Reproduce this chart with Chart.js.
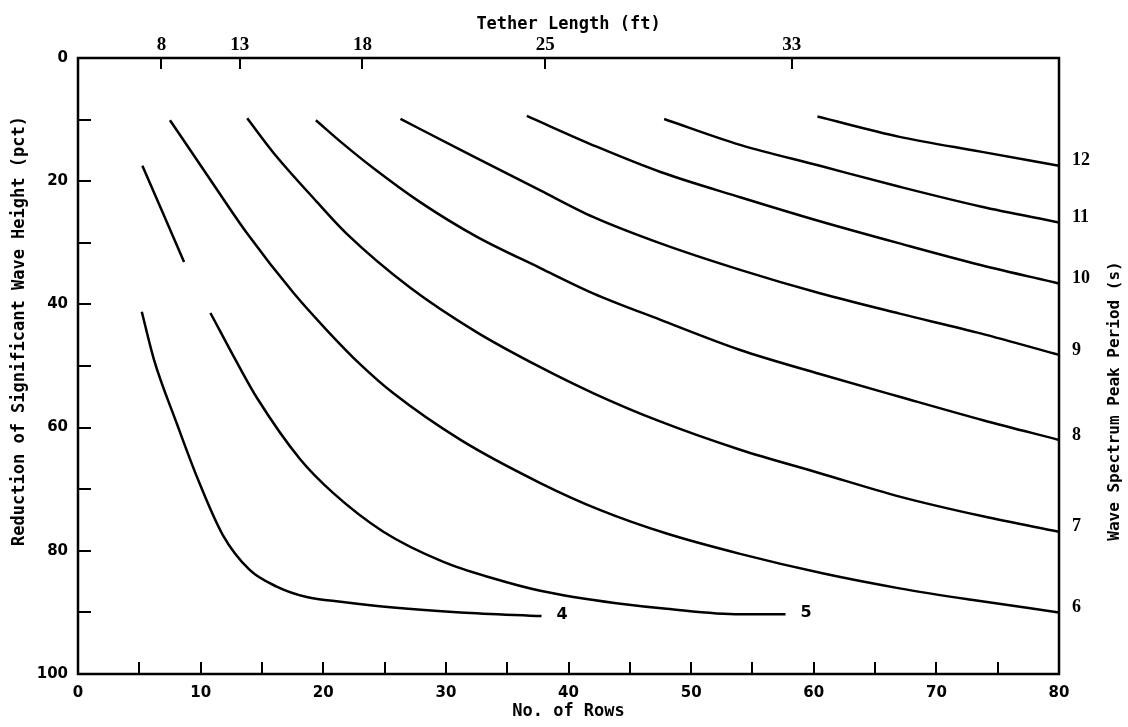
<!DOCTYPE html>
<html>
<head>
<meta charset="utf-8">
<script src="https://cdn.jsdelivr.net/npm/chart.js@4.4.1/dist/chart.umd.min.js"></script>
<style>
  html, body { margin: 0; padding: 0; background: #fff; }
</style>
</head>
<body>
<canvas id="waveChart" width="1128" height="727"></canvas>
<script>
// Rows (x) and reduction of significant wave height in pct (y), one pair per peak period curve
const rows4 = [5.2, 6.2, 8.05, 9.7, 11.8, 14.0, 16.2, 18.65, 21.6, 25.7, 31.2, 37.8];
const red4  = [41.2, 49.0, 59.3, 68.0, 77.4, 83.1, 85.8, 87.5, 88.3, 89.2, 90.0, 90.6];

// the 5 s curve has a break in the print between 8.6 and 10.8 rows
const rows5 = [5.25, 8.65, 9.7, 10.8, 13.2, 14.6, 18.1, 20.8, 24.9, 29.8, 33.9, 37.7, 40.4, 43.9, 48.0, 54.0, 57.7];
const red5  = [17.5, 33.1, null, 41.4, 50.3, 55.2, 65.1, 70.6, 76.9, 81.8, 84.5, 86.5, 87.5, 88.5, 89.4, 90.3, 90.3];

const rows6 = [7.5, 10.5, 13.8, 17.6, 20.3, 23.0, 25.7, 31.2, 37.7, 42.6, 48.0, 54.0, 60.8, 67.0, 73.0, 80];
const red6  = [10.1, 18.9, 28.5, 38.2, 44.2, 49.7, 54.4, 62.0, 69.0, 73.4, 77.2, 80.5, 83.7, 86.1, 88.0, 90.0];

const rows7 = [13.8, 15.9, 19.5, 21.9, 27.1, 32.5, 37.7, 42.0, 47.2, 54.0, 60.5, 67.0, 73.8, 80];
const red7  = [9.8, 15.3, 23.4, 28.5, 37.3, 44.5, 50.2, 54.4, 58.8, 63.6, 67.4, 71.2, 74.4, 76.9];

const rows8 = [19.4, 21.6, 24.1, 27.9, 32.5, 37.7, 42.0, 47.5, 54.0, 60.5, 67.0, 73.8, 80];
const red8  = [10.1, 13.9, 17.9, 23.4, 29.0, 34.1, 38.2, 42.5, 47.4, 51.3, 55.0, 58.8, 62.0];

const rows9 = [26.3, 31.2, 37.7, 42.0, 47.5, 54.0, 60.5, 67.0, 73.6, 80];
const red9  = [9.9, 14.9, 21.5, 25.8, 30.1, 34.4, 38.2, 41.5, 44.7, 48.2];

const rows10 = [36.6, 42.3, 47.5, 54.0, 60.5, 67.0, 73.6, 80];
const red10  = [9.4, 14.4, 18.5, 22.6, 26.5, 30.1, 33.6, 36.6];

const rows11 = [47.8, 54.0, 60.5, 67.0, 73.6, 80];
const red11  = [9.9, 14.1, 17.5, 20.9, 24.1, 26.7];

const rows12 = [60.3, 67.0, 73.6, 80];
const red12  = [9.5, 12.8, 15.2, 17.5];

const periods = ['4', '5', '6', '7', '8', '9', '10', '11', '12'];
const curveRows = [rows4, rows5, rows6, rows7, rows8, rows9, rows10, rows11, rows12];
const curveRed = [red4, red5, red6, red7, red8, red9, red10, red11, red12];

// top axis: tether length at the matching number of rows
const tetherRows = [6.8, 13.2, 23.2, 38.1, 58.2];
const tetherFt = ['8', '13', '18', '25', '33'];

const ink = '#000';
const monoBold = { family: 'DejaVu Sans Mono', size: 17, weight: 'bold' };
const numFont = { family: 'DejaVu Sans', size: 15, weight: 'bold' };

const datasets = periods.map((p, i) => ({
    label: p + ' s',
    data: curveRows[i].map((x, j) => ({ x, y: curveRed[i][j] })),
    borderColor: ink,
    borderWidth: 2.5,
    pointRadius: 0,
    fill: false,
    tension: 0.4,
    cubicInterpolationMode: 'monotone',
    spanGaps: false
}));

// frame, inward tick marks, curve labels and the two side titles
const frameAndMarks = {
    id: 'frameAndMarks',
    afterDraw(chart) {
        const { ctx, chartArea: a, scales } = chart;
        ctx.save();
        ctx.strokeStyle = ink;
        ctx.lineWidth = 2.5;
        ctx.strokeRect(a.left, a.top, a.width, a.height);

        ctx.lineWidth = 2;
        ctx.beginPath();
        for (let v = 5; v < 80; v += 5) {
            const px = Math.round(scales.x.getPixelForValue(v));
            ctx.moveTo(px, a.bottom);
            ctx.lineTo(px, a.bottom - 12);
        }
        for (let v = 10; v < 100; v += 10) {
            const py = Math.round(scales.y.getPixelForValue(v));
            ctx.moveTo(a.left, py);
            ctx.lineTo(a.left + 13, py);
        }
        tetherRows.forEach(v => {
            const px = Math.round(scales.x2.getPixelForValue(v));
            ctx.moveTo(px, a.top);
            ctx.lineTo(px, a.top + 11);
        });
        ctx.stroke();

        ctx.fillStyle = ink;
        ctx.textBaseline = 'middle';
        ctx.textAlign = 'left';
        chart.data.datasets.forEach((ds, i) => {
            const last = ds.data[ds.data.length - 1];
            const px = scales.x.getPixelForValue(last.x);
            const py = scales.y.getPixelForValue(last.y);
            if (last.x >= 80) {
                ctx.font = 'bold 18px "Liberation Serif"';
                ctx.fillText(periods[i], a.right + 13, py - 5);
            } else {
                ctx.font = 'bold 16px "DejaVu Sans"';
                ctx.fillText(periods[i], px + 15, py - 1);
            }
        });

        ctx.font = 'bold 17px "DejaVu Sans Mono"';
        ctx.textAlign = 'center';
        ctx.save();
        ctx.translate(20, 331);
        ctx.rotate(-Math.PI / 2);
        ctx.fillText('Reduction of Significant Wave Height (pct)', 0, 0);
        ctx.restore();

        ctx.font = 'bold 16px "DejaVu Sans Mono"';
        ctx.translate(a.right + 56, 401);
        ctx.rotate(-Math.PI / 2);
        ctx.fillText('Wave Spectrum Peak Period (s)', 0, 0);
        ctx.restore();
    }
};

new Chart(document.getElementById('waveChart'), {
    type: 'line',
    data: { datasets },
    options: {
        responsive: false,
        animation: false,
        layout: { padding: { right: 69 } },
        plugins: {
            legend: { display: false },
            tooltip: { enabled: false }
        },
        scales: {
            x: {
                type: 'linear',
                position: 'bottom',
                min: 0,
                max: 80,
                ticks: { stepSize: 10, padding: 10, color: ink, font: numFont, maxRotation: 0 },
                grid: { display: false, drawTicks: false },
                border: { display: false },
                title: { display: true, text: 'No. of Rows', color: ink, font: monoBold, padding: { top: 0, bottom: 5 } },
                afterFit(s) { s.height = 53; }
            },
            x2: {
                type: 'linear',
                position: 'top',
                min: 0,
                max: 80,
                afterBuildTicks(s) { s.ticks = tetherRows.map(v => ({ value: v })); },
                ticks: {
                    autoSkip: false,
                    padding: 2,
                    color: ink,
                    font: { family: 'Liberation Serif', size: 19, weight: 'bold' },
                    maxRotation: 0,
                    callback: (v, i) => tetherFt[i]
                },
                grid: { display: false, drawTicks: false },
                border: { display: false },
                title: { display: true, text: 'Tether Length (ft)', color: ink, font: monoBold, padding: { top: 14, bottom: 0 } },
                afterFit(s) { s.height = 58; }
            },
            y: {
                type: 'linear',
                position: 'left',
                reverse: true,
                min: 0,
                max: 100,
                ticks: { stepSize: 20, padding: 10, color: ink, font: numFont },
                grid: { display: false, drawTicks: false },
                border: { display: false },
                afterFit(s) { s.width = 78; }
            }
        }
    },
    plugins: [frameAndMarks]
});
</script>
</body>
</html>
